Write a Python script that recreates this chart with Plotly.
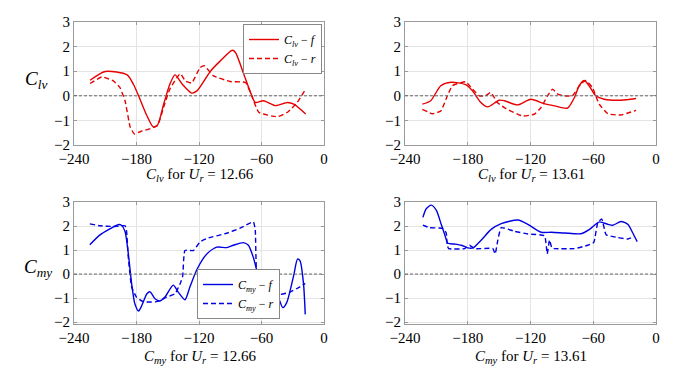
import plotly.graph_objects as go

# ---- data: C_lv, U_r = 12.66 ----
clv1_f_x = [-224.6, -210, -189, -183, -178, -170, -164, -160, -154, -148, -143, -136, -127, -122, -109, -99.5, -88, -85, -77, -70.6, -66, -58, -46.5, -35, -29, -17.6]
clv1_f_y = [0.63, 0.99, 0.85, 0.47, 0.0, -0.81, -1.26, -1.2, -0.35, 0.47, 0.85, 0.47, 0.11, 0.2, 1.0, 1.42, 1.85, 1.76, 0.88, 0.14, -0.27, -0.2, -0.4, -0.27, -0.34, -0.74]
clv1_r_x = [-224.6, -213, -202, -196, -191, -186, -182, -176, -160, -154, -148, -138, -133, -127, -119, -115, -106, -90, -75.4, -70.6, -62.6, -45, -35, -25.7, -17.6]
clv1_r_y = [0.5, 0.77, 0.6, 0.34, -0.2, -1.28, -1.55, -1.45, -1.22, -0.47, 0.27, 0.9, 0.6, 0.52, 1.15, 1.22, 0.81, 0.58, 0.54, 0.14, -0.67, -0.85, -0.67, -0.27, 0.27]

# ---- data: C_lv, U_r = 13.61 ----
clv2_f_x = [-223.4, -215.4, -205.8, -196, -182, -175.5, -167.5, -161, -150, -145, -132.4, -119.7, -107, -97, -84.6, -78, -73.4, -68.6, -64, -57.6, -49.5, -33.5, -19.1]
clv2_f_y = [-0.34, -0.2, 0.41, 0.55, 0.45, 0.2, -0.27, -0.45, -0.18, -0.2, -0.37, -0.14, -0.32, -0.41, -0.5, -0.07, 0.41, 0.62, 0.41, 0.0, -0.14, -0.18, -0.11]
clv2_r_x = [-223.4, -213.8, -205.8, -199.5, -194.7, -182, -175.5, -169, -163, -158, -151.7, -145, -127.6, -116.5, -110, -103.7, -99, -94, -88, -80, -72, -67, -60.8, -54.3, -46, -33.5, -19]
clv2_r_y = [-0.55, -0.73, -0.62, 0.0, 0.41, 0.57, 0.27, 0.0, 0.0, 0.14, -0.27, -0.48, -0.82, -0.75, -0.48, 0.0, 0.27, 0.07, 0.0, 0.0, 0.48, 0.62, 0.34, -0.34, -0.73, -0.78, -0.59]

# ---- data: C_my, U_r = 12.66 ----
cmy1_f_x = [-224.8, -215, -205.6, -197.6, -194.4, -191, -188, -184.7, -181.5, -178, -175, -170, -167, -162, -157.5, -152.7, -144.7, -140, -133.5, -128.7, -122, -112.6, -103, -93.4, -87, -77.4, -72.6, -67.8, -63, -58, -51.7, -45, -39.5, -35.7, -29.3, -25.4, -23, -19.7, -18]
cmy1_f_y = [1.22, 1.63, 1.88, 2.06, 2.03, 1.77, 0.9, -0.39, -1.25, -1.54, -1.32, -0.82, -0.74, -1.04, -1.12, -0.96, -0.46, -0.75, -1.07, -0.53, 0.19, 0.83, 1.12, 1.1, 1.2, 1.31, 1.2, 0.69, 0.0, -0.1, -0.24, -0.82, -1.4, -1.18, -0.1, 0.62, 0.55, -0.39, -1.68]
cmy1_r_x = [-224.8, -215, -202.4, -191, -189.5, -188, -184.7, -180, -173.5, -160.7, -151, -143, -138, -135.7, -133.5, -125.4, -119, -112.6, -93.4, -80.6, -67.8, -66, -64, -58, -51.7, -42, -32.5, -23, -18]
cmy1_r_y = [2.09, 2.01, 1.98, 2.01, 1.77, 0.76, -0.53, -0.96, -1.15, -1.15, -0.96, -0.82, -0.39, -0.1, 0.98, 0.98, 1.34, 1.48, 1.7, 1.91, 2.17, 1.84, -0.32, -0.6, -0.79, -0.85, -0.75, -0.53, -0.39]

# ---- data: C_my, U_r = 13.61 ----
cmy2_f_x = [-222.9, -219.7, -214.9, -210, -205.4, -202, -199, -192.6, -186, -180, -175, -167, -157.6, -148, -132, -122.5, -109.8, -100, -87.5, -71.6, -63.6, -54, -46, -41.3, -33.4, -27, -22.2, -18]
cmy2_f_y = [2.36, 2.72, 2.87, 2.65, 2.07, 1.64, 1.28, 1.25, 1.2, 1.09, 1.09, 1.42, 1.86, 2.1, 2.25, 2.07, 1.74, 1.74, 1.71, 1.68, 1.86, 2.17, 2.07, 2.03, 2.19, 2.07, 1.71, 1.35]
cmy2_r_x = [-222.9, -216.5, -203.8, -200.6, -199.6, -198.3, -183, -178.3, -173.5, -156, -153.8, -151.2, -148, -135.3, -122.5, -106.6, -104, -101.8, -99.6, -97, -78, -65.2, -59.5, -55.7, -51.8, -47.7, -36.6, -27, -20.6]
cmy2_r_y = [2.04, 1.93, 1.9, 1.71, 1.2, 1.06, 1.06, 1.2, 1.06, 1.06, 0.84, 1.42, 1.93, 1.78, 1.67, 1.59, 0.84, 1.42, 1.09, 1.06, 1.06, 1.2, 1.32, 2.14, 2.29, 1.64, 1.52, 1.46, 1.56]

x_ticks = [-240, -180, -120, -60, 0]
y_ticks = [-2, -1, 0, 1, 2, 3]

RED = "rgb(230,0,0)"
BLUE = "rgb(0,0,225)"
FONT = "Liberation Serif, Times New Roman, serif"

W, H = 679, 369
def fx(px):
    return px / W
def fy(py):
    return 1 - py / H

fig = go.Figure()

def add(xs, ys, color, dash, xa, ya, name, legend, show):
    fig.add_trace(go.Scatter(
        x=xs, y=ys, mode="lines", name=name,
        line=dict(color=color, width=1.4, dash=dash, shape="spline", smoothing=0.7 if dash == "solid" else 0.4),
        xaxis=xa, yaxis=ya, legend=legend, showlegend=show))

lv_f = "<i>C<sub>lv</sub></i> − <i>f</i>"
lv_r = "<i>C<sub>lv</sub></i> − <i>r</i>"
my_f = "<i>C<sub>my</sub></i> − <i>f</i>"
my_r = "<i>C<sub>my</sub></i> − <i>r</i>"

add(clv1_f_x, clv1_f_y, RED, "solid", "x", "y", lv_f, "legend", True)
add(clv1_r_x, clv1_r_y, RED, "5px,3px", "x", "y", lv_r, "legend", True)
add(clv2_f_x, clv2_f_y, RED, "solid", "x2", "y2", lv_f, "legend", False)
add(clv2_r_x, clv2_r_y, RED, "5px,3px", "x2", "y2", lv_r, "legend", False)
add(cmy1_f_x, cmy1_f_y, BLUE, "solid", "x3", "y3", my_f, "legend2", True)
add(cmy1_r_x, cmy1_r_y, BLUE, "5px,3px", "x3", "y3", my_r, "legend2", True)
add(cmy2_f_x, cmy2_f_y, BLUE, "solid", "x4", "y4", my_f, "legend2", False)
add(cmy2_r_x, cmy2_r_y, BLUE, "5px,3px", "x4", "y4", my_r, "legend2", False)

xdoms = [[fx(74), fx(324)], [fx(405), fx(656)]]
ydoms = [[fy(145), fy(22)], [fy(324), fy(202)]]

axcommon = dict(showline=True, linecolor="#9a9a9a", linewidth=1, mirror="ticks",
                ticks="inside", ticklen=3, tickcolor="#9a9a9a", automargin=False,
                showgrid=True, gridcolor="#e4e4e4", gridwidth=1, zeroline=False,
                tickfont=dict(family=FONT, size=15, color="black"))

layout = dict(width=W, height=H, margin=dict(l=0, r=0, t=0, b=0), template="none",
              paper_bgcolor="white", plot_bgcolor="white", showlegend=True,
              font=dict(family=FONT, color="black"))

names = [("xaxis", "yaxis", "x", "y"), ("xaxis2", "yaxis2", "x2", "y2"),
         ("xaxis3", "yaxis3", "x3", "y3"), ("xaxis4", "yaxis4", "x4", "y4")]
for i, (xn, yn, xr, yr) in enumerate(names):
    row, col = divmod(i, 2)
    layout[xn] = dict(axcommon, domain=xdoms[col], range=[-240, 0], tickvals=x_ticks,
                      ticktext=[str(v).replace("-", "−") for v in x_ticks], anchor=yr)
    layout[yn] = dict(axcommon, domain=ydoms[row], range=[-2, 3] if row == 0 else [-2.08, 3],
                      tickvals=y_ticks, ticktext=[str(v).replace("-", "−") for v in y_ticks], anchor=xr)
fig.update_layout(**layout)

fig.update_layout(
    legend=dict(x=fx(322), y=fy(24), xanchor="right", yanchor="top",
                bgcolor="white", bordercolor="#888", borderwidth=1,
                font=dict(family=FONT, size=12, color="black"),
                tracegroupgap=0, itemwidth=30),
    legend2=dict(x=fx(197), y=fy(319), xanchor="left", yanchor="bottom",
                 bgcolor="white", bordercolor="#888", borderwidth=1,
                 font=dict(family=FONT, size=12, color="black"),
                 tracegroupgap=0, itemwidth=30),
)

# zero dashed lines
for xr, yr in [("x", "y"), ("x2", "y2"), ("x3", "y3"), ("x4", "y4")]:
    fig.add_shape(type="line", xref=xr + " domain", yref=yr, x0=0, x1=1, y0=0, y1=0,
                  line=dict(color="#666", width=1, dash="3px,2px"))

ann = []
ann.append(dict(text="<i>C<sub>lv</sub></i>", x=fx(36), y=fy(80), xref="paper", yref="paper",
                xanchor="center", yanchor="middle",
                showarrow=False, font=dict(family=FONT, size=19, color="black")))
ann.append(dict(text="<i>C<sub>my</sub></i>", x=fx(38), y=fy(268), xref="paper", yref="paper",
                xanchor="center", yanchor="middle",
                showarrow=False, font=dict(family=FONT, size=19, color="black")))
titles = [("<i>C<sub>lv</sub></i> for <i>U<sub>r</sub></i> = 12.66", 200, 175),
          ("<i>C<sub>lv</sub></i> for <i>U<sub>r</sub></i> = 13.61", 531, 175),
          ("<i>C<sub>my</sub></i> for <i>U<sub>r</sub></i> = 12.66", 200, 357),
          ("<i>C<sub>my</sub></i> for <i>U<sub>r</sub></i> = 13.61", 531, 357)]
for t, px, py in titles:
    ann.append(dict(text=t, x=fx(px), y=fy(py), xref="paper", yref="paper",
                    xanchor="center", yanchor="middle",
                    showarrow=False, font=dict(family=FONT, size=15, color="black")))
fig.update_layout(annotations=ann)

fig.write_html("out.html", config={"displayModeBar": False})

# remove the browser's default page margin so the figure sits at (0, 0)
with open("out.html", "r", encoding="utf-8") as f:
    html = f.read()
html = html.replace("<head>", "<head><style>html,body{margin:0;padding:0;overflow:hidden;}</style>", 1)
with open("out.html", "w", encoding="utf-8") as f:
    f.write(html)
